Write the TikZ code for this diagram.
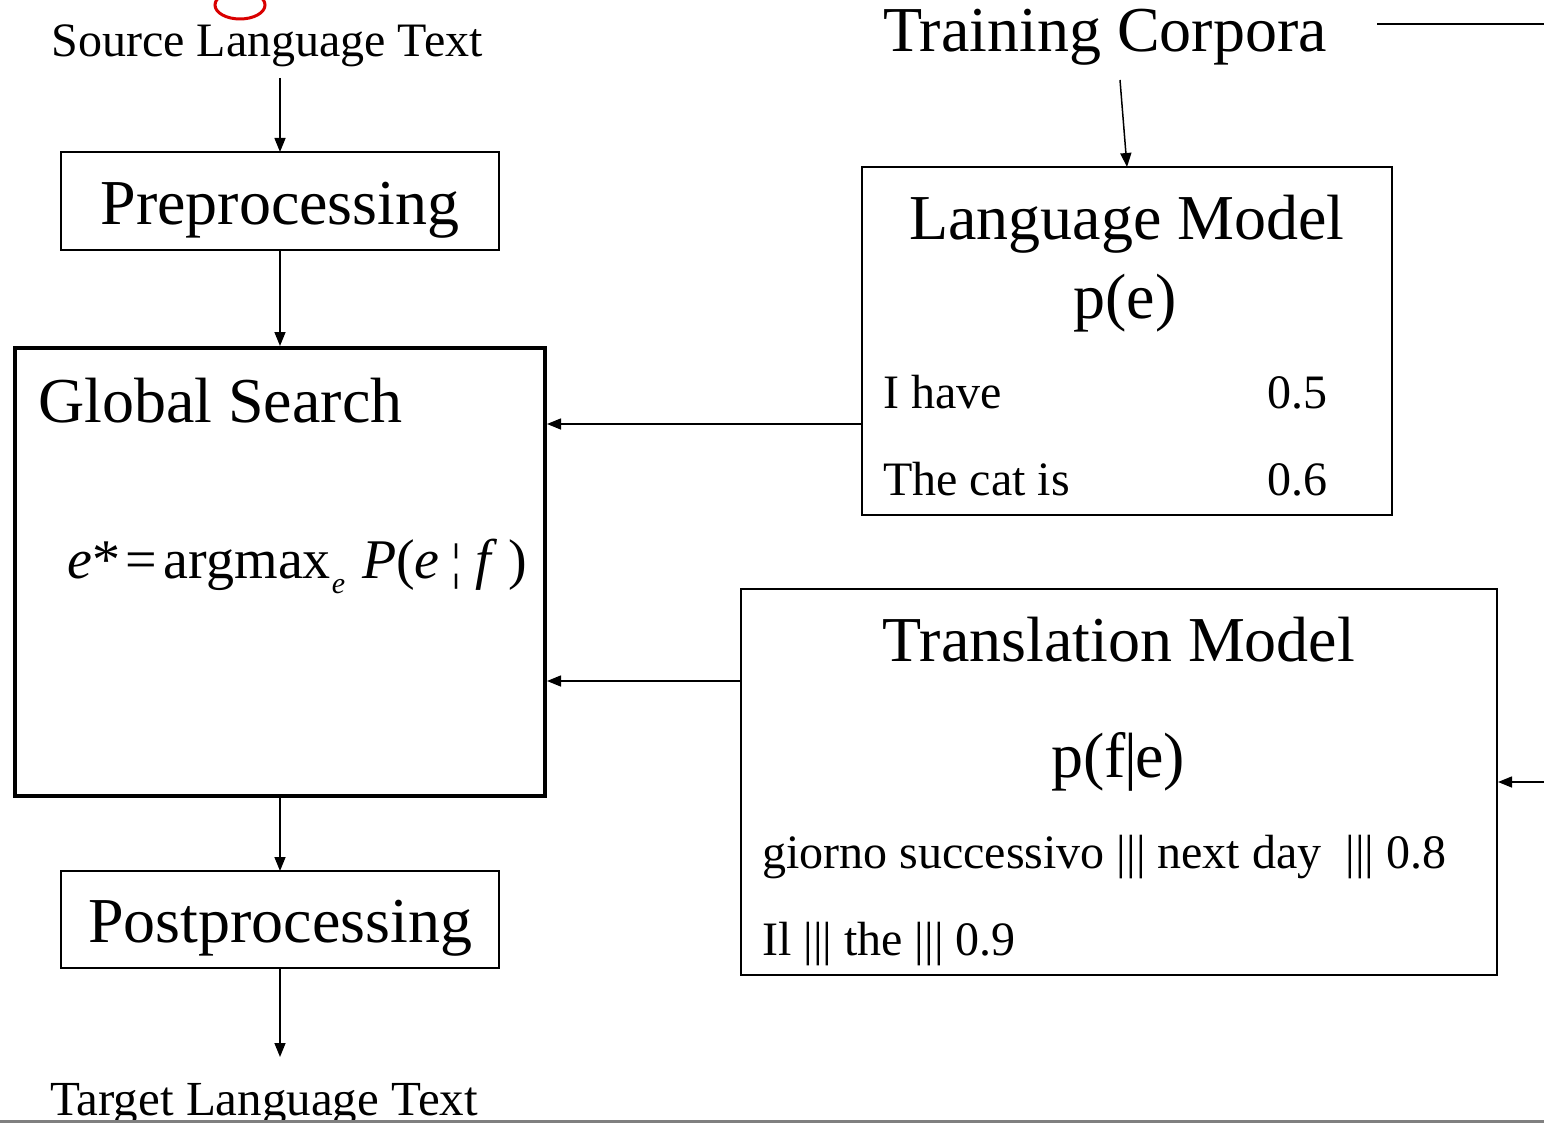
\documentclass[tikz,border=0pt]{standalone}
\usepackage{fontspec}
\setmainfont{Liberation Serif}
\usetikzlibrary{arrows.meta}
\newcommand{\fs}[1]{\fontsize{#1}{#1}\selectfont}
\begin{document}
\begin{tikzpicture}[x=1pt,y=-1pt,
  arr/.style={line width=1.5pt,-{Triangle[length=14pt,width=11pt]}},
  thinbox/.style={draw,line width=2pt,inner sep=0pt},
  big/.style={font=\fs{64},inner sep=0pt},
  small/.style={font=\fs{48},inner sep=0pt}]
\useasboundingbox (0,0) rectangle (1544,1123);
\fill[white] (0,0) rectangle (1544,1123);
% red fragment
\begin{scope}
\clip (0,0) rectangle (1544,1123);
\draw[red!85!black,line width=3pt] (240,5) ellipse [x radius=25, y radius=14];
\end{scope}
% left column
\node[small,anchor=base] (src) at (267,57) {Source Language Text};
\draw[thinbox] (61,152) rectangle (499,250);
\coordinate (preN) at (280,152);
\coordinate (preS) at (280,250);
\node[big,anchor=base] (pre) at (280,225) {Preprocessing};
\draw[line width=4pt] (15,348) rectangle (545,796);
\coordinate (gsN) at (280,346);
\coordinate (gsS) at (280,798);
\coordinate (gsE1) at (547,424);
\coordinate (gsE2) at (547,681);
\node[big,anchor=base west] (gs) at (38,422) {Global Search};
\node[anchor=base west,inner sep=0pt,font=\fs{56}] (formula) at (67,578)
  {\textit{e}*\kern0.1em=\kern0.12em argmax\kern0.02em\raisebox{-0.28em}{\fs{30}\itshape e}\kern0.3em\textit{P}(\textit{e}\kern0.2em{\fs{50}¦}\kern0.25em\textit{f}\kern0.2em)};
\draw[thinbox] (61,871) rectangle (499,968);
\coordinate (postN) at (280,871);
\coordinate (postS) at (280,968);
\node[big,anchor=base] (post) at (280,942) {Postprocessing};
\node[anchor=base west,inner sep=0pt,font=\fs{49}] (tgt) at (50,1115) {Target Language Text};
\coordinate (tgtN) at (280,1057);
\coordinate (srcS) at (280,78);
\draw[arr] (srcS) -- (preN);
\draw[arr] (preS) -- (gsN);
\draw[arr] (gsS) -- (postN);
\draw[arr] (postS) -- (tgtN);
% language model
\node[font=\fs{64},anchor=base,inner sep=0pt] (tc) at (1105,52) {Training Corpora};
\coordinate (tcL) at (1377,24);
\coordinate (tcR) at (1544,24);
\draw[line width=1.5pt] (tcL) -- (tcR);
\draw[thinbox] (862,167) rectangle (1392,515);
\coordinate (lmN) at (1127,167);
\coordinate (lmW) at (862,424);
\coordinate (tcS) at (1120,80);
\draw[arr] (tcS) -- (lmN);
\node[big,anchor=base] (lmt) at (1127,240) {Language Model};
\node[big,anchor=base] (pe) at (1125,318) {p(e)};
\node[small,anchor=base west] (ih) at (883,408) {I have};
\node[small,anchor=base west] (v5) at (1267,408) {0.5};
\node[small,anchor=base west] (tci) at (883,495) {The cat is};
\node[small,anchor=base west] (v6) at (1267,495) {0.6};
\draw[arr] (lmW) -- (gsE1);
% translation model
\draw[thinbox] (741,589) rectangle (1497,975);
\coordinate (tmW) at (741,681);
\coordinate (tmE) at (1498,782);
\coordinate (tmR) at (1544,782);
\node[big,anchor=base] (tmt) at (1119,661) {Translation Model};
\node[big,anchor=base] (pfe) at (1118,777) {p(f\kern-0.03em|\kern-0.03em e)};
\node[small,anchor=base west] (g1) at (762,868) {giorno successivo ||| next day \ ||| 0.8};
\node[small,anchor=base west] (g2) at (762,955) {Il ||| the ||| 0.9};
\draw[arr] (tmW) -- (gsE2);
\draw[arr] (tmR) -- (tmE);
% bottom rule
\draw[gray,line width=3pt] (0,1121) -- (1544,1121);
\end{tikzpicture}
\end{document}
